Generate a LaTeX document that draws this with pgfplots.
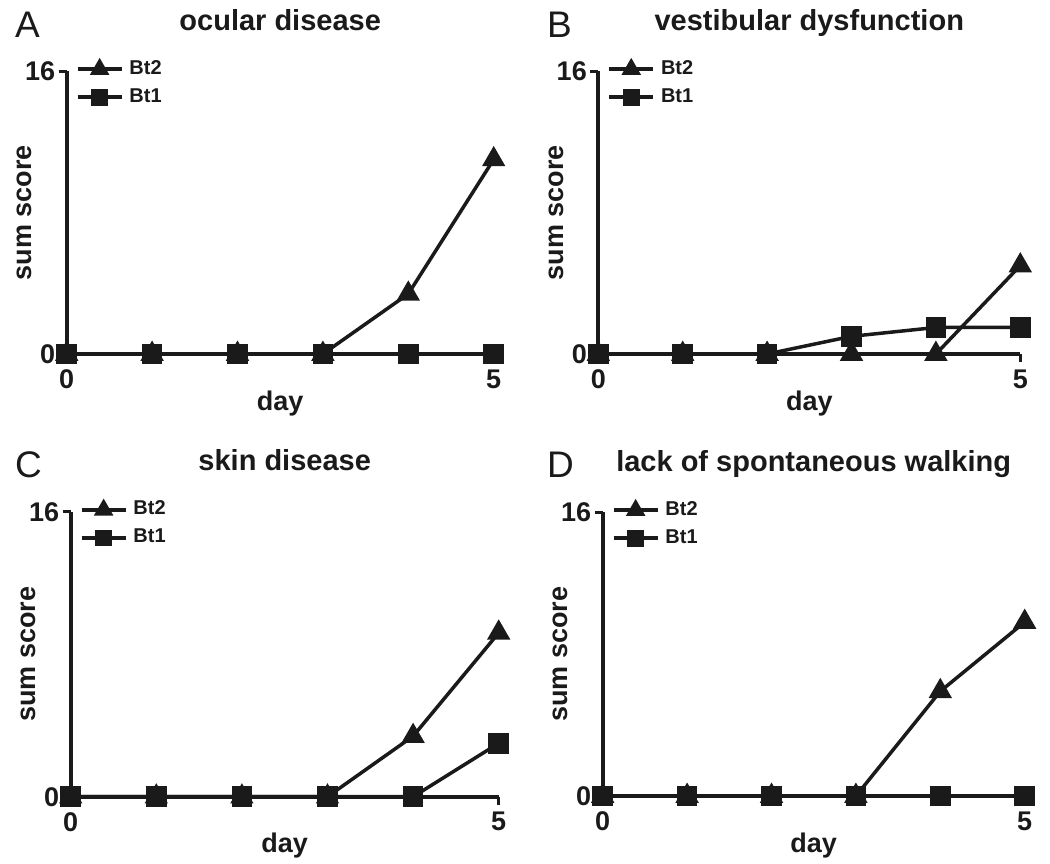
\documentclass[border=0pt]{standalone}
\usepackage{fontspec}
\setmainfont{Liberation Sans}
\usepackage{pgfplots}
\usepackage{pgfplotstable}
\pgfplotsset{compat=1.18}

\pgfplotstableread{
day bttwo btone
0 0 0
1 0 0
2 0 0
3 0 0
4 3.4 0
5 11 0
}\ocular
\pgfplotstableread{
day bttwo btone
0 0 0
1 0 0
2 0 0
3 0 1
4 0 1.5
5 5 1.5
}\vestib
\pgfplotstableread{
day bttwo btone
0 0 0
1 0 0
2 0 0
3 0 0
4 3.4 0
5 9.2 3
}\skin
\pgfplotstableread{
day bttwo btone
0 0 0
1 0 0
2 0 0
3 0 0
4 5.9 0
5 9.8 0
}\walking

\definecolor{ink}{HTML}{1A1A1A}

\pgfplotsset{
  panel/.style={
    scale only axis,
    clip=false,
    axis x line=bottom, axis y line=left,
    axis line style={-, line width=4pt, ink},
    xmin=0, xmax=5, ymin=0, ymax=16,
    xtick={0,5}, ytick={0,16},
    tick align=outside,
    major tick length=8pt,
    every tick/.style={line width=3pt, ink},
    /pgf/number format/assume math mode=true,
    ticklabel style={font=\bfseries\fontsize{27}{27}\selectfont, text=ink},
    xticklabel style={yshift=-4pt},
    xlabel={day}, ylabel={sum score},
    label style={font=\bfseries\fontsize{27}{27}\selectfont, text=ink},
    xlabel style={at={(0.5,0)}, anchor=base, yshift=-56pt},
    ylabel style={at={(0,0.5)}, anchor=center, yshift=42pt},
    title style={font=\bfseries\fontsize{29}{29}\selectfont, text=ink,
      at={(0.5,1)}, anchor=base, yshift=35pt},
    every axis plot/.append style={line width=3.5pt, ink},
    legend style={at={(0,1)}, anchor=north west, xshift=9pt, yshift=13pt,
      draw=none, fill=none, inner sep=0pt, row sep=6pt,
      font=\bfseries\fontsize{20}{20}\selectfont, text=ink,
      nodes={inner sep=2pt, text height=14pt, text depth=4pt},
      /tikz/every odd column/.style={column sep=4pt}},
    legend cell align=left,
    legend image code/.code={
      \draw[mark repeat=2, mark phase=2, /tikz/every mark/.append style={scale=0.78}]
        plot coordinates {(0pt,0pt) (22pt,0pt) (44pt,0pt)};},
  },
  bttwo/.style={mark=triangle*, mark size=10pt, mark options={fill=ink, draw=none}},
  btone/.style={mark=square*, mark size=8.5pt, mark options={fill=ink, draw=none}},
}

\begin{document}
\begin{tikzpicture}
\useasboundingbox (0pt,0pt) rectangle (1050pt,-863pt);

\begin{axis}[panel, at={(66.7pt,-354pt)}, anchor=south west,
  width=427pt, height=283pt, title={ocular disease}]
  \addplot[bttwo] table[x=day, y=bttwo] {\ocular};
  \addlegendentry{Bt2}
  \addplot[btone] table[x=day, y=btone] {\ocular};
  \addlegendentry{Bt1}
\end{axis}

\begin{axis}[panel, at={(598.3pt,-354pt)}, anchor=south west,
  width=422pt, height=283pt, title={vestibular dysfunction}]
  \addplot[bttwo] table[x=day, y=bttwo] {\vestib};
  \addlegendentry{Bt2}
  \addplot[btone] table[x=day, y=btone] {\vestib};
  \addlegendentry{Bt1}
\end{axis}

\begin{axis}[panel, at={(70.7pt,-796.7pt)}, anchor=south west,
  width=428pt, height=285pt, title={skin disease}]
  \addplot[bttwo] table[x=day, y=bttwo] {\skin};
  \addlegendentry{Bt2}
  \addplot[btone] table[x=day, y=btone] {\skin};
  \addlegendentry{Bt1}
\end{axis}

\begin{axis}[panel, at={(602.7pt,-796pt)}, anchor=south west,
  width=422pt, height=284pt, title={lack of spontaneous walking}]
  \addplot[bttwo] table[x=day, y=bttwo] {\walking};
  \addlegendentry{Bt2}
  \addplot[btone] table[x=day, y=btone] {\walking};
  \addlegendentry{Bt1}
\end{axis}

\begin{scope}[every node/.style={anchor=base west, inner sep=0pt,
    font=\fontsize{37}{37}\selectfont, text=ink}]
  \node at (15pt,-37pt) {A};
  \node at (547pt,-37pt) {B};
  \node at (15pt,-477pt) {C};
  \node at (547pt,-477pt) {D};
\end{scope}
\end{tikzpicture}
\end{document}
